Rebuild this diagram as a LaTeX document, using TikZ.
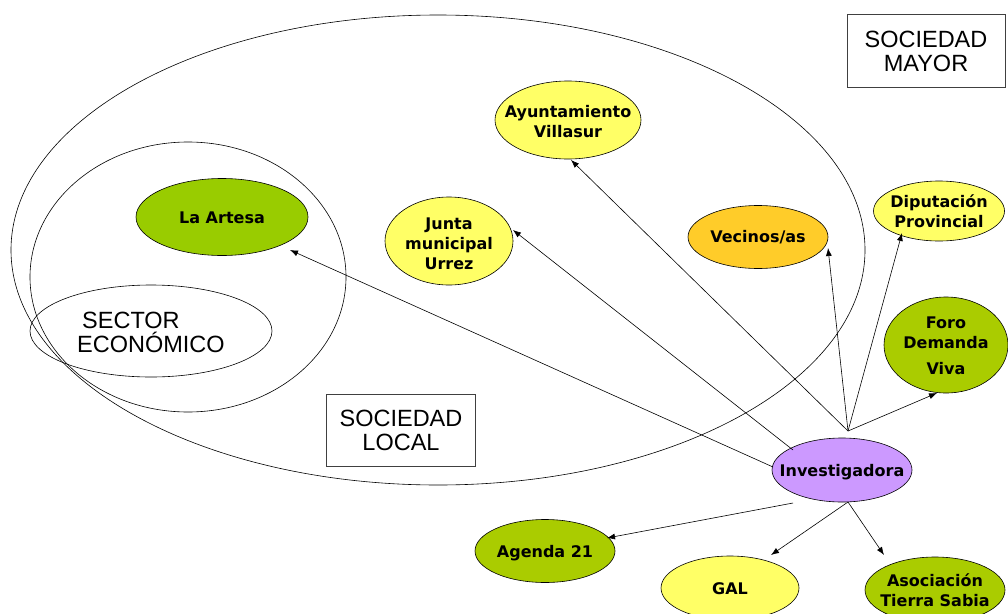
\documentclass[tikz,border=0pt]{standalone}
\usepackage{fontspec}
\setmainfont{Liberation Sans}
\newfontfamily\lblfont{DejaVu Sans}
\usetikzlibrary{shapes.geometric,arrows.meta,calc}
\definecolor{yel}{HTML}{FFFF66}
\definecolor{grnA}{HTML}{99CC00}
\definecolor{grnB}{HTML}{AACC00}
\definecolor{orng}{HTML}{FFCC29}
\definecolor{purp}{HTML}{CC99FF}
\begin{document}
\begin{tikzpicture}[x=1pt,y=-1pt,
  bub/.style={ellipse,draw=black,line width=0.6pt,inner sep=0pt},
  lbl/.style={align=center,inner sep=0pt,font=\lblfont\bfseries\fontsize{16}{20}\selectfont},
  arr/.style={-{Latex[length=8pt,width=6pt]},line width=0.6pt},
  outline/.style={line width=0.6pt},
  plain/.style={align=left,inner sep=0pt,font=\fontsize{23.5}{24}\selectfont},
  boxed/.style={draw=black!75,line width=0.6pt,rectangle,inner sep=0pt,align=center,font=\fontsize{23.5}{24}\selectfont}
]
\useasboundingbox (0,0) rectangle (1008,613);
\clip (0,0) rectangle (1008,613);

% outlines
\draw[outline] (438,250) ellipse [x radius=427, y radius=235];
\draw[outline] (188,277) ellipse [x radius=158, y radius=135];
\draw[outline] (151,331) ellipse [x radius=121, y radius=46];
\node[plain,anchor=west] (sector) at (77,332) {\hspace{5pt}SECTOR\\ECONÓMICO};

\node[boxed,minimum width=149,minimum height=72] (local) at (401,430) {SOCIEDAD\\LOCAL};
\node[boxed,minimum width=158,minimum height=73] (mayor) at (926,51) {SOCIEDAD\\MAYOR};

% nodes
\node[bub,fill=yel,minimum width=146,minimum height=78] (ayto) at (568,120) {};
\node[lbl] (ayto-t) at (568,122) {Ayuntamiento\\Villasur};
\node[bub,fill=yel,minimum width=128,minimum height=88] (junta) at (449,241) {};
\node[lbl] (junta-t) at (449,244) {Junta\\municipal\\Urrez};
\node[bub,fill=grnA,minimum width=172,minimum height=77] (artesa) at (222,217) {};
\node[lbl] (artesa-t) at (222,218) {La Artesa};
\node[bub,fill=orng,minimum width=140,minimum height=63] (vecinos) at (758,237) {};
\node[lbl] (vecinos-t) at (758,237) {Vecinos/as};
\node[bub,fill=yel,minimum width=131,minimum height=60] (dipu) at (939,211) {};
\node[lbl] (dipu-t) at (939,211) {Diputación\\Provincial};
\node[bub,fill=grnB,minimum width=124,minimum height=96] (foro) at (946,345) {};
\node[lbl] (foro-t) at (946,346) {Foro\\Demanda\\[6pt]Viva};
\node[bub,fill=purp,minimum width=140,minimum height=64] (inv) at (842,470) {};
\node[lbl] (inv-t) at (842,472) {Investigadora};
\node[bub,fill=grnB,minimum width=140,minimum height=63] (agenda) at (545,551) {};
\node[lbl] (agenda-t) at (545,553) {Agenda 21};
\node[bub,fill=yel,minimum width=138,minimum height=64] (gal) at (730,588) {};
\node[lbl] (gal-t) at (730,589) {GAL};
\node[bub,fill=grnB,minimum width=140,minimum height=66] (asoc) at (935,590) {};
\node[lbl] (asoc-t) at (935,590) {Asociación\\Tierra Sabia};

% connectors
\coordinate (apex) at (848,431);
\draw[arr] (apex) -- ($(ayto)+(3,40)$);
\draw[arr] (apex) -- ($(vecinos)+(70,11)$);
\draw[arr] (apex) -- ($(dipu)+(-37,22)$);
\draw[arr] (apex) -- ($(foro)+(-9,48)$);
\draw[arr] ($(inv)+(-69,-3)$) -- ($(artesa)+(68,33)$);
\draw[arr] ($(inv)+(-49,-20)$) -- ($(junta)+(64,-11)$);
\draw[arr] ($(inv)+(-49,33)$) -- ($(agenda)+(62,-13)$);
\draw[arr] ($(inv)+(6,32)$) -- ($(gal)+(41,-33)$);
\draw[arr] ($(inv)+(6,32)$) -- ($(asoc)+(-51,-35)$);
\end{tikzpicture}
\end{document}
